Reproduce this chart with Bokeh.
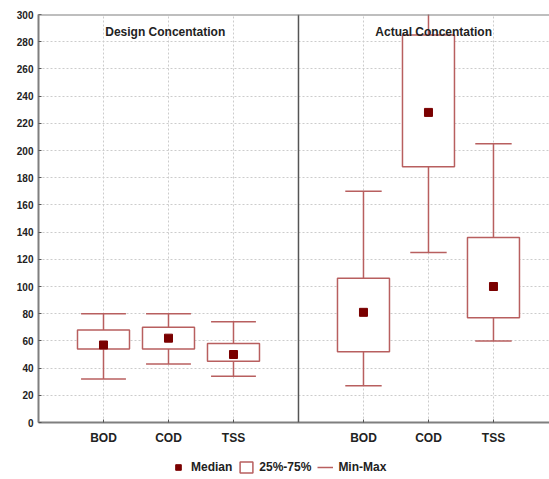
from bokeh.plotting import figure
from bokeh.models import (ColumnDataSource, FixedTicker, Span, Label,
                          Legend, LegendItem, Range1d)
from bokeh.layouts import column
from bokeh.embed import file_html
from bokeh.resources import INLINE

# ---- data ----
groups = ["Design Concentation", "Actual Concentation"]
categories = ["BOD", "COD", "TSS"]
design_min = [32, 43, 34]
design_q1 = [54, 54, 45]
design_median = [57, 62, 50]
design_q3 = [68, 70, 58]
design_max = [80, 80, 74]
actual_min = [27, 125, 60]
actual_q1 = [52, 188, 77]
actual_median = [81, 228, 100]
actual_q3 = [106, 285, 136]
actual_max = [170, 320, 205]
y_ticks = list(range(0, 301, 20))
legend_labels = ["Median", "25%-75%", "Min-Max"]

# ---- positions (layout) ----
design_x = [1, 2, 3]
actual_x = [5, 6, 7]
xs = design_x + actual_x
mins = design_min + actual_min
q1s = design_q1 + actual_q1
meds = design_median + actual_median
q3s = design_q3 + actual_q3
maxs = design_max + actual_max
box_w = 0.4
cap_half = [0.345] * 3 + [0.28] * 3

src = ColumnDataSource(dict(
    x=xs, lo=mins, q1=q1s, med=meds, q3=q3s, hi=maxs,
    left=[x - box_w for x in xs], right=[x + box_w for x in xs],
    cl=[x - c for x, c in zip(xs, cap_half)], cr=[x + c for x, c in zip(xs, cap_half)],
))

BOX = "#B85F5F"
MED = "#7A0000"
TXT = "#222222"
AX = "#7F7F7F"
FONT = "Liberation Sans"

p = figure(width=549, height=452, output_backend="svg", toolbar_location=None,
           x_range=Range1d(0, 7.862), y_range=Range1d(0, 300),
           min_border_left=38, min_border_right=0, min_border_top=14, min_border_bottom=30)
p.outline_line_color = None
p.background_fill_color = "white"
p.border_fill_color = "white"

# whiskers
p.segment(x0="x", y0="lo", x1="x", y1="q1", source=src, line_color=BOX, line_width=1.5)
p.segment(x0="x", y0="q3", x1="x", y1="hi", source=src, line_color=BOX, line_width=1.5)
p.segment(x0="cl", y0="lo", x1="cr", y1="lo", source=src, line_color=BOX, line_width=1.5)
p.segment(x0="cl", y0="hi", x1="cr", y1="hi", source=src, line_color=BOX, line_width=1.5)
# boxes
p.quad(left="left", right="right", bottom="q1", top="q3", source=src,
       fill_color="white", line_color=BOX, line_width=1.5)
# medians
p.scatter(x="x", y="med", source=src, marker="square", size=8,
          fill_color=MED, line_color=MED)

# divider between panels
p.add_layout(Span(location=4, dimension="height", line_color="#555555", line_width=1.5))

# axes
p.xaxis.ticker = FixedTicker(ticks=xs)
p.xaxis.major_label_overrides = {x: c for x, c in zip(xs, categories * 2)}
p.yaxis.ticker = FixedTicker(ticks=y_ticks)
for ax in (p.xaxis[0], p.yaxis[0]):
    ax.axis_line_color = AX
    ax.axis_line_width = 2
    ax.major_tick_in = 3
    ax.major_tick_out = 0
    ax.major_tick_line_color = "#555555"
    ax.minor_tick_line_color = None
    ax.major_label_text_font = FONT
    ax.major_label_text_font_style = "bold"
    ax.major_label_text_color = TXT
p.xaxis.major_label_text_font_size = "12px"
p.xaxis.major_label_standoff = 8
p.yaxis.major_label_text_font_size = "10px"
p.yaxis.major_label_standoff = 5

p.xgrid.grid_line_color = "#CCCCCC"
p.xgrid.grid_line_dash = "2 2"
p.ygrid.grid_line_color = "#CCCCCC"
p.ygrid.grid_line_dash = "2 2"

# top border line
p.add_layout(Span(location=300, dimension="width", line_color=AX, line_width=2))

# panel titles
for gx, g in zip([1.95, 6.08], groups):
    p.add_layout(Label(x=gx, y=287, text=g, text_align="center", text_baseline="middle",
                       text_font=FONT, text_font_style="bold", text_font_size="12px",
                       text_color=TXT))

# ---- legend strip ----
lg = figure(width=549, height=27, output_backend="svg", toolbar_location=None,
            x_range=Range1d(0, 1), y_range=Range1d(0, 1),
            min_border_left=0, min_border_right=0, min_border_top=0, min_border_bottom=0)
lg.axis.visible = False
lg.grid.visible = False
lg.outline_line_color = None
nan = float("nan")
empty = ColumnDataSource(dict(x=[nan], y=[nan], x1=[nan], y1=[nan]))
r_med = lg.scatter(x="x", y="y", source=empty, marker="square", size=8,
                   fill_color=MED, line_color=MED)
r_box = lg.quad(left="x", right="x1", bottom="y", top="y1", source=empty,
                fill_color="white", line_color=BOX, line_width=1.5)
r_wh = lg.segment(x0="x", y0="y", x1="x1", y1="y1", source=empty,
                  line_color=BOX, line_width=1.5)
legend = Legend(items=[LegendItem(label=legend_labels[0], renderers=[r_med]),
                       LegendItem(label=legend_labels[1], renderers=[r_box]),
                       LegendItem(label=legend_labels[2], renderers=[r_wh])],
                orientation="horizontal", location=(132, 5),
                label_text_font=FONT, label_text_font_style="bold",
                label_text_font_size="12px", label_text_color=TXT,
                border_line_color=None, background_fill_alpha=0,
                glyph_width=16, glyph_height=14, label_standoff=5, spacing=6,
                padding=0, margin=0)
lg.add_layout(legend)

layout = column(p, lg, spacing=0)
open("out.html", "w").write(file_html(layout, INLINE))
